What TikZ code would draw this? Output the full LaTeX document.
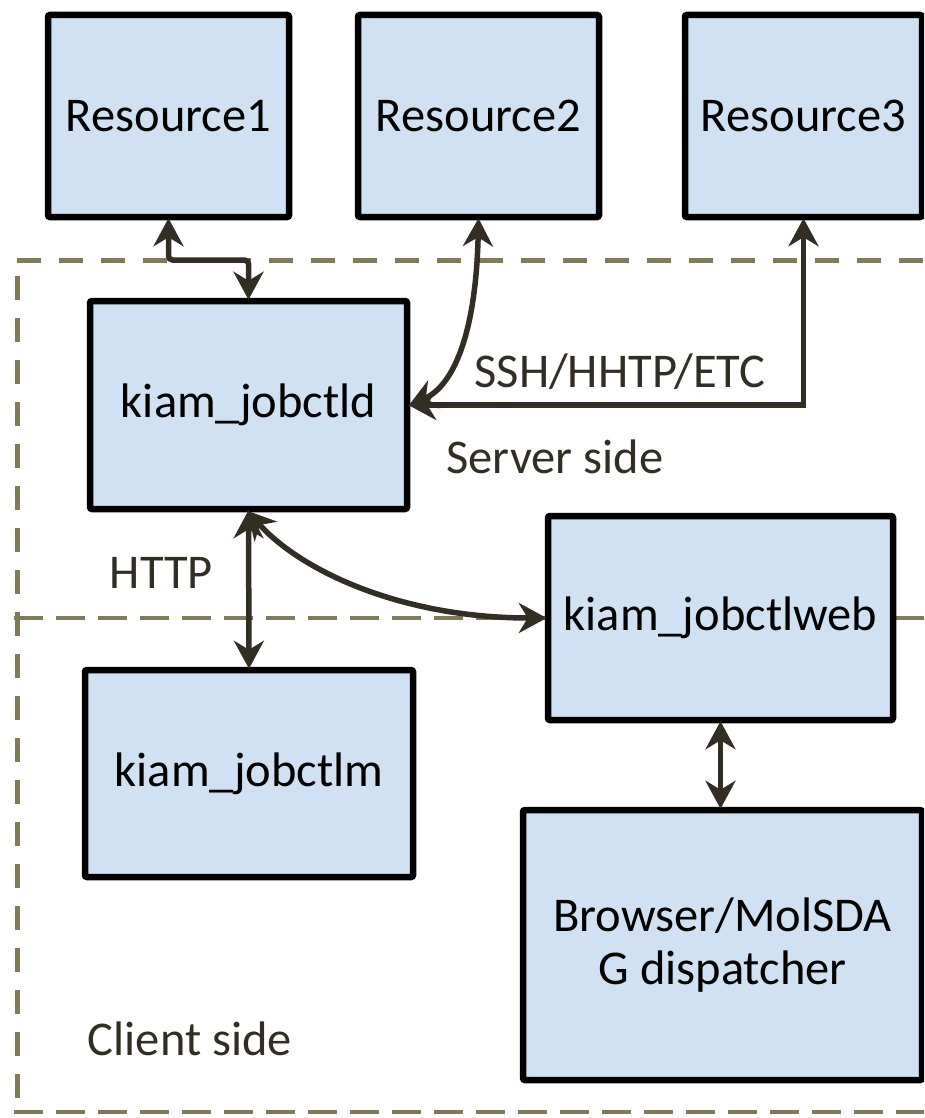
\documentclass[tikz,border=0pt]{standalone}
\usepackage{fontspec}
\setmainfont{Carlito}
\usetikzlibrary{arrows.meta,calc}
\definecolor{boxfill}{RGB}{207,225,242}
\definecolor{zoneline}{RGB}{127,122,88}
\definecolor{linkcol}{RGB}{50,46,36}
\begin{document}
\begin{tikzpicture}[x=1pt,y=-1pt,
  box/.style={draw=black, line width=6.5pt, fill=boxfill, rounded corners=2pt,
    inner sep=0pt, align=center, font=\fontsize{48.5}{53}\selectfont},
  link/.style={draw=linkcol, line width=5.5pt,
    {Stealth[length=28pt,width=30pt,inset=9pt]}-{Stealth[length=28pt,width=30pt,inset=9pt]},
    shorten <=-2pt, shorten >=-2pt},
  zone/.style={draw=zoneline, line width=5pt, dash pattern=on 24pt off 18pt},
  zonemid/.style={draw=zoneline, line width=4pt, dash pattern=on 29pt off 13pt},
  lbl/.style={text=linkcol, inner sep=0pt, anchor=base, font=\fontsize{48.5}{53}\selectfont}]
\useasboundingbox (0,0) rectangle (924,1118);
\clip (0,0) rectangle (924,1118);

% server / client zones
\draw[zone] (17,260) -- (940,260);
\draw[zone] (17,276) -- (17,1112);
\draw[zonemid] (14,1112) -- (940,1112);
\draw[zonemid] (14,618) -- (940,618);

% components
\node[box, minimum width=241pt, minimum height=202pt] (r1) at (168.5,116) {Resource1};
\node[box, minimum width=241pt, minimum height=202pt] (r2) at (478.5,116) {Resource2};
\node[box, minimum width=237pt, minimum height=202pt] (r3) at (803.5,116) {Resource3};
\node[box, minimum width=317pt, minimum height=208pt] (d) at (248.5,405) {kiam\_jobctld};
\node[box, minimum width=345pt, minimum height=204pt] (w) at (720.5,618) {kiam\_jobctlweb};
\node[box, minimum width=328pt, minimum height=207pt] (m) at (249,773.5) {kiam\_jobctlm};
\node[box, minimum width=399pt, minimum height=270pt] (b) at (722.5,945) {Browser/MolSDA\\G dispatcher};

% connections
\draw[link, rounded corners=4pt] (r1.south) -- (r1.south |- 0,260) -| (d.north);
\draw[link] (r2.south) .. controls (476,330) and (455,385) .. (d.east);
\draw[link] (r3.south) |- (d.east);
\draw[link] (d.south) -- (m.north);
\draw[link] (d.south) .. controls (300,570) and (400,618) .. (w.west);
\draw[link] (w.south) -- (w.south |- b.north);

% labels
\node[lbl] (ssh) at (620,387) {SSH/HHTP/ETC};
\node[lbl] (srv) at (555,473) {Server side};
\node[lbl] (http) at (161.5,588) {HTTP};
\node[lbl] (cli) at (190,1055) {Client side};
\end{tikzpicture}
\end{document}
